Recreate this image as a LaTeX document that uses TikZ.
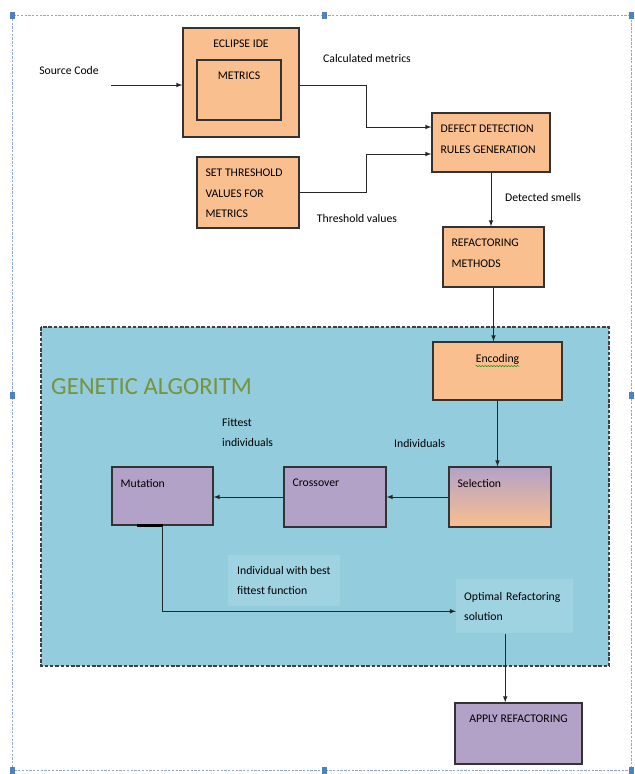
\documentclass[tikz,border=0pt]{standalone}
\usepackage{fontspec}
\setmainfont{Carlito}
\usetikzlibrary{decorations.pathmorphing}

\definecolor{orng}{HTML}{FABF8F}
\definecolor{purp}{HTML}{B3A2C7}
\definecolor{gaback}{HTML}{93CDDD}
\definecolor{gatext}{HTML}{77933C}
\definecolor{frameblue}{HTML}{8EA9D0}
\definecolor{handle}{HTML}{4F81BD}

\begin{document}
\begin{tikzpicture}[x=0.03cm, y=-0.03cm, >=latex, font=\fontsize{10}{17.5}\selectfont,
  box/.style={rectangle, draw=black!80, line width=1.1pt, inner sep=0},
  obox/.style={box, fill=orng},
  pbox/.style={box, fill=purp},
  ctop/.style={anchor=north, yshift=-0.37cm, inner sep=0},
  ltop/.style={anchor=north west, xshift=0.27cm, yshift=-0.37cm, inner sep=0, align=left},
  flow/.style={line width=0.8pt, black!85}]
\useasboundingbox (0,0) rectangle (634,774);

% outer frame with handles
\draw[frameblue, line width=0.5pt, dash pattern=on 2pt off 1.2pt] (12,15) rectangle (631,770);
\foreach \hx/\hy in {12/15, 324/15, 631/15, 12/395, 631/395, 12/770, 324/770, 631/770}
  \fill[handle] (\hx-2.5,\hy-3.5) rectangle (\hx+2.5,\hy+3.5);

% genetic algorithm area
\draw[fill=gaback, draw=black!75, line width=1pt, dash pattern=on 3pt off 1.5pt] (41,327) rectangle (609,666);
\node[anchor=west, inner sep=0, text=gatext, font=\fontsize{21}{24}\selectfont] (ga) at (51,387) {GENETIC ALGORITM};

% upper part
\node (src) at (69,70) {Source Code};
\coordinate (srcin) at (111,85);
\node[obox, minimum width=3.48cm, minimum height=3.27cm, label={[ctop]north:ECLIPSE IDE}] (ide) at (241,82.5) {};
\node[obox, minimum width=2.52cm, minimum height=1.8cm, label={[ctop]north:METRICS}] (met) at (239,90) {};
\node[obox, minimum width=3.06cm, minimum height=2.13cm, label={[ltop]north west:SET THRESHOLD\\VALUES FOR\\METRICS}] (thr) at (248,192.5) {};
\node[obox, minimum width=3.54cm, minimum height=1.77cm, label={[ltop]north west:DEFECT DETECTION\\RULES GENERATION}] (ddr) at (491,142.5) {};
\node[obox, minimum width=3.03cm, minimum height=1.8cm, label={[ltop]north west:REFACTORING\\METHODS}] (ref) at (493.5,257) {};

\node (calc) at (367,58) {Calculated metrics};
\node (thv) at (357,218) {Threshold values};
\node (det) at (543,197) {Detected smells};

% genetic algorithm steps
\node[obox, minimum width=3.87cm, minimum height=1.74cm, label={[ctop, name=enclbl]north:Encoding}] (enc) at (497.5,371) {};
\node[box, top color=purp, bottom color=orng, minimum width=3.06cm, minimum height=1.8cm, label={[ltop]north west:Selection}] (sel) at (500,497) {};
\node[pbox, minimum width=3.06cm, minimum height=1.8cm, label={[ltop]north west:Crossover}] (cro) at (335,497) {};
\node[pbox, minimum width=3.03cm, minimum height=1.74cm, label={[ltop]north west:Mutation}] (mut) at (162.5,496) {};

\node[anchor=north west, inner sep=0, align=left] (fit) at (222,418) {Fittest\\individuals};
\node[anchor=west, inner sep=0] (ind) at (394,443) {Individuals};
\node[anchor=north west, fill=gaback!88!white, inner xsep=0.27cm, inner ysep=0.33cm, align=left] (best) at (228,555) {Individual with best\\fittest function};
\node[anchor=north west, fill=gaback!88!white, inner xsep=0.24cm, inner ysep=0.38cm, text width=3.03cm, align=left] (opt) at (456,579) {Optimal Refactoring\\solution};

\node[pbox, minimum width=3.81cm, minimum height=1.83cm, label={[ctop]north:APPLY REFACTORING}] (app) at (518.5,733.5) {};

% spell check mark
\draw[green!55!black, line width=0.4pt, decorate, decoration={snake, amplitude=0.5pt, segment length=2.5pt}]
  ([yshift=-1.5pt]enclbl.south west) -- ([yshift=-1.5pt]enclbl.south east);

% connectors
\draw[flow, ->] (srcin) -- (srcin -| ide.west);
\draw[flow, ->] ([yshift=-0.1cm]ide.east) -- ++(67,0) |- ([yshift=0.465cm]ddr.west);
\draw[flow, ->] (thr.east) -- ++(67,0) |- ([yshift=-0.345cm]ddr.west);
\draw[flow, ->] (ddr.south) -- (ddr.south |- ref.north);
\draw[flow, ->] (ref.south) -- (ref.south |- enc.north);
\draw[flow, ->] (enc.south) -- (enc.south |- sel.north);
\draw[flow, ->] (sel.west) -- (cro.east);
\draw[flow, ->] (cro.west) -- (cro.west -| mut.east);
\draw[line width=2pt] ([xshift=-0.75cm]mut.south) -- (mut.south);
\draw[flow, ->] (mut.south) |- ([yshift=-0.15cm]opt.west);
\draw[flow, ->] ([xshift=-0.285cm]opt.south) -- ([xshift=-0.285cm]opt.south |- app.north);
\end{tikzpicture}
\end{document}
